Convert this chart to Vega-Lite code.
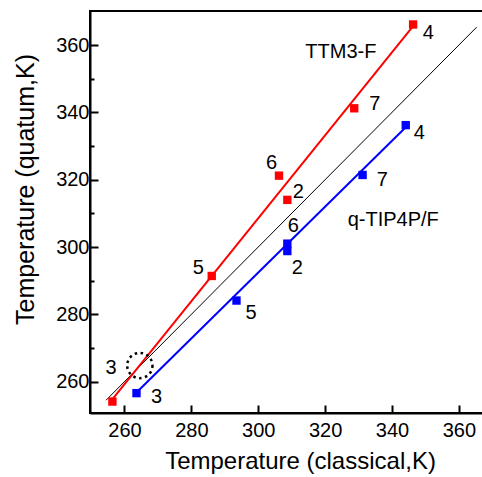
{
  "$schema": "https://vega.github.io/schema/vega-lite/v6.json",
  "width": 394,
  "height": 402,
  "autosize": {"type": "none"},
  "padding": {"left": 90, "top": 11, "right": 0, "bottom": 64},
  "background": "white",
  "config": {"view": {"stroke": "black", "strokeWidth": 2}, "font": "Liberation Sans"},
  "layer": [
    {
      "data": {"values": [{"x": 254.5, "y": 254.5}, {"x": 365.3, "y": 365.3}]},
      "mark": {"type": "line", "color": "black", "strokeWidth": 1},
      "encoding": {
        "x": {
          "field": "x", "type": "quantitative",
          "scale": {"domain": [249.7, 367.5], "nice": false, "zero": false},
          "axis": {
            "values": [260, 270, 280, 290, 300, 310, 320, 330, 340, 350, 360],
            "labelExpr": "datum.value % 20 == 0 ? datum.label : ''",
            "tickSize": {"condition": {"test": "datum.value % 20 == 0", "value": -8}, "value": -4},
            "tickWidth": 2, "tickColor": "black",
            "domainColor": "black", "domainWidth": 2,
            "labelFontSize": 20, "labelColor": "black", "labelPadding": 15,
            "grid": false,
            "title": "Temperature (classical,K)",
            "titleFontSize": 24, "titleFontWeight": "normal", "titleColor": "black",
            "titleX": 210, "titleY": 55, "titleBaseline": "alphabetic"
          }
        },
        "y": {
          "field": "y", "type": "quantitative",
          "scale": {"domain": [250.7, 370.1], "nice": false, "zero": false},
          "axis": {
            "values": [260, 270, 280, 290, 300, 310, 320, 330, 340, 350, 360],
            "labelExpr": "datum.value % 20 == 0 ? datum.label : ''",
            "tickSize": {"condition": {"test": "datum.value % 20 == 0", "value": -8}, "value": -4},
            "tickWidth": 2, "tickColor": "black",
            "domainColor": "black", "domainWidth": 2,
            "labelFontSize": 20, "labelColor": "black", "labelPadding": 9,
            "grid": false,
            "title": "Temperature (quatum,K)",
            "titleFontSize": 25, "titleFontWeight": "normal", "titleColor": "black",
            "titleX": -57, "titleY": 178, "titleBaseline": "alphabetic"
          }
        }
      }
    },
    {
      "data": {"values": [
        {"s": "TTM3-F", "x": 256.0, "y": 254.3},
        {"s": "TTM3-F", "x": 346.3, "y": 365.6},
        {"s": "q-TIP4P/F", "x": 263.6, "y": 256.8},
        {"s": "q-TIP4P/F", "x": 343.8, "y": 335.3}
      ]},
      "mark": {"type": "line", "strokeWidth": 2},
      "encoding": {
        "x": {"field": "x", "type": "quantitative"},
        "y": {"field": "y", "type": "quantitative"},
        "color": {"field": "s", "type": "nominal", "scale": {"domain": ["TTM3-F", "q-TIP4P/F"], "range": ["#ff0000", "#0000ff"]}, "legend": null}
      }
    },
    {
      "data": {"values": [
        {"s": "TTM3-F", "n": "3", "x": 256.4, "y": 254.1},
        {"s": "TTM3-F", "n": "5", "x": 286.1, "y": 291.4},
        {"s": "TTM3-F", "n": "2", "x": 308.7, "y": 314.0},
        {"s": "TTM3-F", "n": "6", "x": 306.2, "y": 321.2},
        {"s": "TTM3-F", "n": "7", "x": 328.7, "y": 341.2},
        {"s": "TTM3-F", "n": "4", "x": 346.3, "y": 366.1},
        {"s": "q-TIP4P/F", "n": "3", "x": 263.6, "y": 256.6},
        {"s": "q-TIP4P/F", "n": "5", "x": 293.5, "y": 284.1},
        {"s": "q-TIP4P/F", "n": "2", "x": 308.7, "y": 298.8},
        {"s": "q-TIP4P/F", "n": "6", "x": 308.7, "y": 301.0},
        {"s": "q-TIP4P/F", "n": "7", "x": 331.2, "y": 321.4},
        {"s": "q-TIP4P/F", "n": "4", "x": 344.1, "y": 336.2}
      ]},
      "mark": {"type": "square", "size": 70, "filled": true, "opacity": 1},
      "encoding": {
        "x": {"field": "x", "type": "quantitative"},
        "y": {"field": "y", "type": "quantitative"},
        "color": {"field": "s", "type": "nominal", "legend": null}
      }
    },
    {
      "data": {"values": [
        {"t": "3", "x": 255.96, "y": 264.07},
        {"t": "5", "x": 282.06, "y": 293.68},
        {"t": "6", "x": 304.0, "y": 325.04},
        {"t": "2", "x": 311.96, "y": 316.43},
        {"t": "7", "x": 334.89, "y": 342.39},
        {"t": "4", "x": 350.82, "y": 363.48},
        {"t": "TTM3-F", "x": 324.72, "y": 358.01},
        {"t": "3", "x": 269.63, "y": 255.55},
        {"t": "5", "x": 297.82, "y": 280.49},
        {"t": "2", "x": 311.66, "y": 293.68},
        {"t": "6", "x": 310.46, "y": 306.24},
        {"t": "7", "x": 337.07, "y": 319.91},
        {"t": "4", "x": 348.13, "y": 333.95},
        {"t": "q-TIP4P/F", "x": 340.36, "y": 308.03}
      ]},
      "mark": {"type": "text", "fontSize": 20, "color": "black", "align": "center", "baseline": "middle", "font": "Liberation Sans"},
      "encoding": {
        "x": {"field": "x", "type": "quantitative"},
        "y": {"field": "y", "type": "quantitative"},
        "text": {"field": "t", "type": "nominal"}
      }
    },
    {
      "data": {"values": [{"x": 264.6, "y": 264.8}]},
      "mark": {"type": "point", "shape": "circle", "size": 640, "filled": false, "stroke": "black", "strokeWidth": 2.5, "strokeDash": [2.5, 3.5], "opacity": 1},
      "encoding": {
        "x": {"field": "x", "type": "quantitative"},
        "y": {"field": "y", "type": "quantitative"}
      }
    }
  ]
}
